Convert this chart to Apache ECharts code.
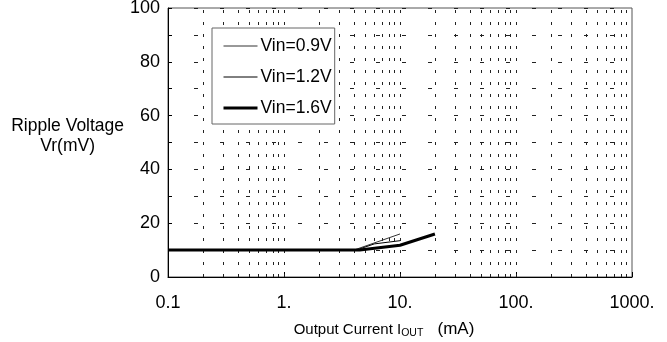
<!DOCTYPE html>
<html><head><meta charset="utf-8">
<script src="https://cdn.jsdelivr.net/npm/echarts@6/dist/echarts.min.js"></script>
<style>html,body{margin:0;padding:0;background:#fff}#c{width:667px;height:342px}</style>
</head><body><div id="c"></div>
<script>
const seriesNames = ['Vin=0.9V', 'Vin=1.2V', 'Vin=1.6V'];
const vin09 = [[0.1, 10], [1, 10], [4.0, 10], [10, 16]];
const vin12 = [[0.1, 10], [1, 10], [4.2, 10], [6, 12.3], [10, 13.5]];
const vin16 = [[0.1, 10], [1, 10], [4.5, 10], [10, 11.8], [20, 16]];
const xTickLabels = {0.1: '0.1', 1: '1.', 10: '10.', 100: '100.', 1000: '1000.'};
const minorX = [];
[0.1, 1, 10, 100].forEach(d => { for (let k = 2; k <= 9; k++) minorX.push(+(d * k).toPrecision(3)); });
const majorX = [1, 10, 100];
const lineColors = ['#333', '#000', '#000'];
const lineWidths = [1, 1, 3];

const chart = echarts.init(document.getElementById('c'));
const FONT = 'Liberation Sans, Arial, sans-serif';
const gridDash = {type: [3, 9], color: '#222', width: 1};
chart.setOption({
  animation: false,
  grid: {left: 168, right: 35, top: 8, bottom: 65, show: true, borderColor: '#555', borderWidth: 1,
    containLabel: false, outerBoundsMode: 'none'},
  legend: {
    show: true, left: 212, top: 28, orient: 'vertical', itemGap: 11, z: 20,
    itemWidth: 34, itemHeight: 14,
    backgroundColor: '#fff', borderColor: '#666', borderWidth: 1,
    padding: [8, 3, 6, 10],
    itemStyle: {opacity: 0},
    textStyle: {fontFamily: FONT, fontSize: 17.5, color: '#000', lineHeight: 20, padding: [0, 0, 0, -2]},
    data: seriesNames.map((n, i) => ({name: n, lineStyle: {color: lineColors[i], width: lineWidths[i]}, itemStyle: {opacity: 0}}))
  },
  xAxis: {
    type: 'log', min: 0.1, max: 1000, logBase: 10,
    axisLine: {show: true, lineStyle: {color: '#000', width: 1}},
    axisTick: {show: true, inside: true, length: 5, lineStyle: {color: '#000'}},
    axisLabel: {fontFamily: FONT, fontSize: 18, color: '#000', margin: 17,
      formatter: v => xTickLabels[+v.toPrecision(3)] ?? ''},
    splitLine: {show: false},
    name: '{a|Output Current I}{s|OUT}{b|   (mA)}', nameLocation: 'middle', nameGap: 43,
    nameTextStyle: {padding: [0, 32, 0, 0], rich: {
      a: {fontFamily: FONT, fontSize: 15, color: '#000'},
      s: {fontFamily: FONT, fontSize: 10.5, color: '#000', verticalAlign: 'bottom', padding: [8, 0, 0, 0]},
      b: {fontFamily: FONT, fontSize: 17, color: '#000'}
    }}
  },
  yAxis: {
    type: 'value', min: 0, max: 100, interval: 20,
    axisLine: {show: true, lineStyle: {color: '#000', width: 1}},
    axisTick: {show: true, inside: true, length: 4, lineStyle: {color: '#000'}},
    axisLabel: {fontFamily: FONT, fontSize: 18, color: '#000', margin: 8},
    splitLine: {show: true, lineStyle: {type: [4, 22], color: '#222', width: 1}},
    minorTick: {show: true, splitNumber: 2, length: 4, lineStyle: {color: '#000'}},
    minorSplitLine: {show: true, lineStyle: {type: [4, 22], color: '#222', width: 1}},
    name: '{t|Ripple Voltage}\n{t|Vr(mV)}\n{z| }', nameLocation: 'middle', nameGap: 97, nameRotate: 0,
    nameTextStyle: {align: 'center', rich: {
      t: {fontFamily: FONT, fontSize: 17.5, color: '#000', lineHeight: 20, align: 'center'},
      z: {fontSize: 8, lineHeight: 12}
    }}
  },
  series: seriesNames.map((n, i) => ({
    name: n, type: 'line', data: [vin09, vin12, vin16][i], showSymbol: false, symbol: 'none', z: 5 + i,
    color: lineColors[i],
    lineStyle: {color: lineColors[i], width: lineWidths[i]},
    markLine: i === 0 ? {silent: true, symbol: 'none', label: {show: false}, animation: false,
      lineStyle: gridDash, data: minorX.concat(majorX).map(v => ({xAxis: v}))} : undefined
  }))
});
</script></body></html>
